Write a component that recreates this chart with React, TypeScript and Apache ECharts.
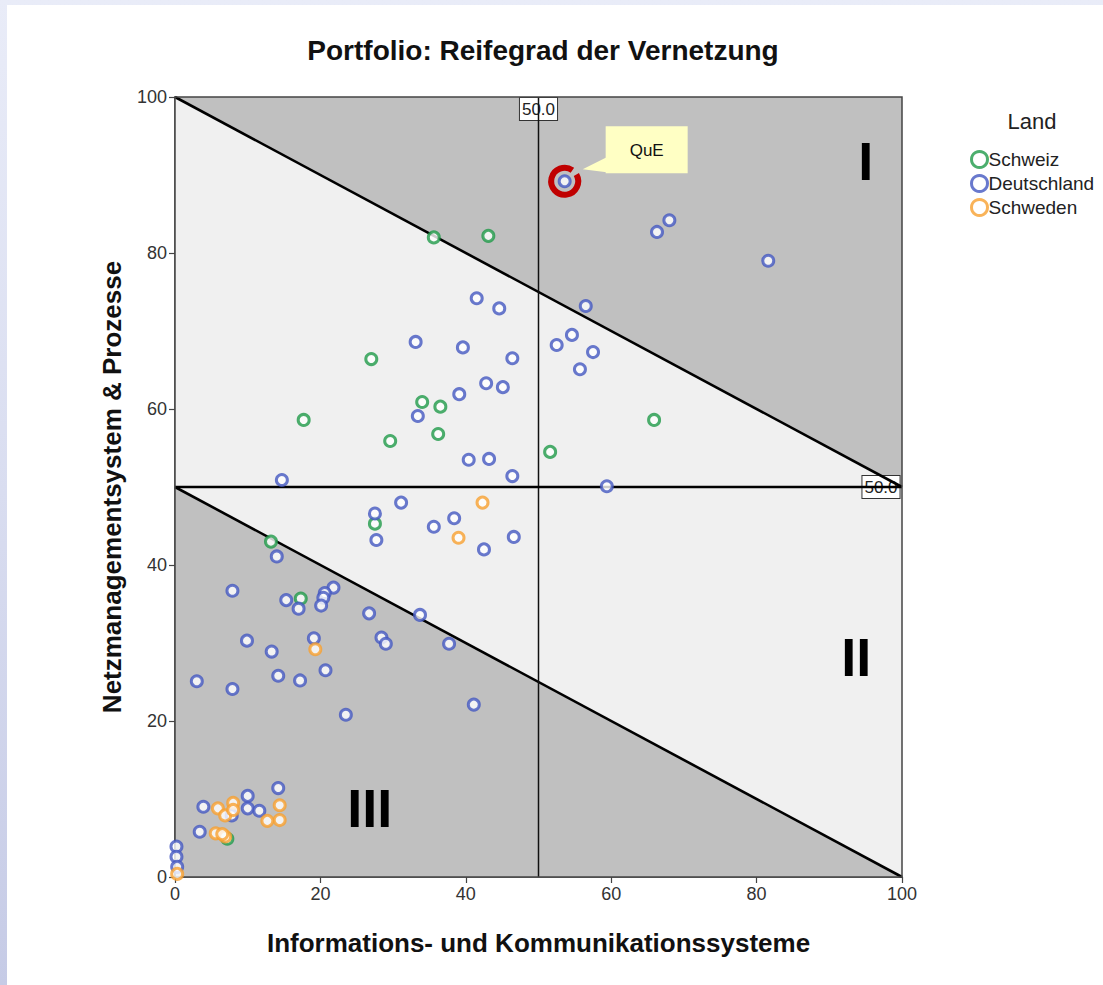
import React, { useEffect, useRef } from "react";
import * as echarts from "echarts";

// ---------- data ----------
const axisTicks = [0, 20, 40, 60, 80, 100];
const countries = ["Schweiz", "Deutschland", "Schweden"];

const schweiz: number[][] = [
  [35.6, 82.0], [43.1, 82.2], [27.0, 66.4], [17.7, 58.6], [34.0, 60.9],
  [36.5, 60.3], [29.6, 55.9], [36.2, 56.8], [51.6, 54.5], [65.9, 58.6],
  [27.5, 45.3], [13.2, 43.0], [17.3, 35.7], [7.2, 4.9],
];

const deutschland: number[][] = [
  [53.6, 89.2], [66.3, 82.7], [68.0, 84.2], [81.6, 79.0], [56.5, 73.2],
  [54.6, 69.5], [52.5, 68.2], [57.5, 67.3], [55.7, 65.1], [59.4, 50.1],
  [41.5, 74.2], [44.6, 72.9], [33.1, 68.6], [39.6, 67.9], [46.4, 66.5],
  [42.8, 63.3], [45.1, 62.8], [39.1, 61.9], [33.4, 59.1], [40.4, 53.5],
  [43.2, 53.6], [46.4, 51.4], [14.7, 50.9],
  [27.5, 46.6], [27.7, 43.2], [31.1, 48.0], [35.6, 44.9], [38.4, 46.0],
  [42.5, 42.0], [46.6, 43.6], [26.7, 33.8], [33.7, 33.6], [28.4, 30.7],
  [29.0, 29.9], [37.7, 29.9], [41.1, 22.1],
  [14.0, 41.1], [7.9, 36.7], [15.3, 35.5], [17.0, 34.4], [21.8, 37.1],
  [20.6, 36.4], [20.4, 35.8], [20.1, 34.8], [9.9, 30.3], [13.3, 28.9],
  [19.1, 30.6], [20.7, 26.5], [3.0, 25.1], [7.9, 24.1], [14.2, 25.8],
  [17.2, 25.2], [23.5, 20.8],
  [14.2, 11.4], [3.9, 9.0], [7.8, 7.9], [10.0, 10.4], [10.0, 8.8],
  [11.6, 8.5], [3.4, 5.8], [0.2, 3.9], [0.2, 2.6], [0.3, 1.3],
];

const schweden: number[][] = [
  [42.3, 48.0], [39.0, 43.5], [19.3, 29.2], [5.9, 8.8], [8.0, 9.5],
  [6.9, 7.9], [8.0, 8.6], [14.4, 9.2], [14.4, 7.3], [12.7, 7.2],
  [5.6, 5.6], [6.9, 5.2], [6.5, 5.5], [0.3, 0.4],
];

// regions: above upper diagonal, band between diagonals, below lower diagonal
const regionTop: number[][] = [[0, 100], [100, 100], [100, 50]];
const regionBand: number[][] = [[0, 100], [100, 50], [100, 0], [0, 50]];
const regionBottom: number[][] = [[0, 50], [100, 0], [0, 0]];

const upperDiagonal: number[][] = [[0, 100], [100, 50]];
const lowerDiagonal: number[][] = [[0, 50], [100, 0]];
const refX = 50;
const refY = 50;
const refLabel = "50.0";

const quePoint: number[] = [53.6, 89.2];
const queLabel = "QuE";

const numeralLabels = ["I", "II", "III"];
const numeralPositions: number[][] = [[95.0, 91.8], [93.7, 28.2], [26.8, 8.8]];

const titleText = "Portfolio: Reifegrad der Vernetzung";
const xName = "Informations- und Kommunikationssysteme";
const yName = "Netzmanagementsystem & Prozesse";
const legendTitle = "Land";

// ---------- styles ----------
const FONT = "'Liberation Sans', Arial, 'DejaVu Sans', sans-serif";
const COLORS = ["#1f9a48", "#4458c0", "#f7a030"];
const DARK = "#c0c0c0";
const LIGHT = "#f0f0f0";

export default function App() {
  const ref = useRef<HTMLDivElement | null>(null);

  useEffect(() => {
    if (!ref.current) return;
    const chart = echarts.init(ref.current, undefined, { renderer: "svg" });

    const scatter = (name: string, data: number[][], color: string) => ({
      name,
      type: "scatter",
      data,
      symbol: "circle",
      symbolSize: 11,
      itemStyle: { color: "#ffffff", borderColor: color, borderWidth: 3 },
      z: 5,
    });

    const maxT = axisTicks[axisTicks.length - 1];
    const minT = axisTicks[0];

    const option: any = {
      animation: false,
      backgroundColor: "transparent",
      title: {
        text: titleText,
        left: 538,
        top: 31,
        textAlign: "center",
        textStyle: { fontFamily: FONT, fontSize: 28, fontWeight: "bold", color: "#111" },
      },
      graphic: [
        {
          type: "text",
          x: 1032,
          y: 121,
          style: {
            text: legendTitle,
            font: `22px ${FONT}`,
            fill: "#222",
            align: "center",
            verticalAlign: "middle",
          },
        },
      ],
      legend: {
        data: countries.map((name, i) => ({
          name,
          icon: "circle",
          itemStyle: { color: "#ffffff", borderColor: COLORS[i], borderWidth: 3 },
        })),
        orient: "vertical",
        left: 965,
        top: 145,
        itemWidth: 16,
        itemHeight: 16,
        itemGap: 5,
        textStyle: { fontFamily: FONT, fontSize: 19, lineHeight: 19, color: "#222", padding: [0, 0, 0, -4] },
      },
      grid: { left: 175, top: 97, width: 727, height: 780, containLabel: false },
      xAxis: {
        type: "value",
        min: minT,
        max: maxT,
        interval: axisTicks[1] - axisTicks[0],
        name: xName,
        nameLocation: "middle",
        nameGap: 53,
        nameTextStyle: { fontFamily: FONT, fontSize: 26, fontWeight: "bold", color: "#111" },
        axisLine: { show: true, lineStyle: { color: "#444", width: 1.5 } },
        axisTick: { show: true, length: 6, lineStyle: { color: "#444", width: 1.2 } },
        axisLabel: { fontFamily: FONT, fontSize: 18, color: "#333", margin: 8 },
        splitLine: { show: false },
      },
      yAxis: {
        type: "value",
        min: minT,
        max: maxT,
        interval: axisTicks[1] - axisTicks[0],
        name: yName,
        nameLocation: "middle",
        nameGap: 50,
        nameTextStyle: { fontFamily: FONT, fontSize: 26, fontWeight: "bold", color: "#111" },
        axisLine: { show: true, lineStyle: { color: "#444", width: 1.5 } },
        axisTick: { show: true, length: 6, lineStyle: { color: "#444", width: 1.2 } },
        axisLabel: { fontFamily: FONT, fontSize: 18, color: "#333", margin: 8 },
        splitLine: { show: false },
      },
      series: [
        {
          type: "custom",
          name: "regions",
          data: [[0, 0]],
          silent: true,
          z: 1,
          clip: false,
          renderItem: (_p: any, api: any) => {
            const poly = (pts: number[][], fill: string) => ({
              type: "polygon",
              shape: { points: pts.map((p) => api.coord(p)) },
              style: { fill, stroke: null },
            });
            const topPt = api.coord([refX, maxT]);
            const rightPt = api.coord([maxT, refY]);
            const lbl = (x: number, y: number) => ({
              type: "text",
              x,
              y,
              style: {
                text: refLabel,
                font: `17px ${FONT}`,
                fill: "#222",
                align: "center",
                verticalAlign: "middle",
                backgroundColor: "#fff",
                borderColor: "#333",
                borderWidth: 1,
                padding: [3, 2, 2, 2],
              },
            });
            return {
              type: "group",
              children: [
                poly(regionTop, DARK),
                poly(regionBand, LIGHT),
                poly(regionBottom, DARK),
                lbl(topPt[0], topPt[1] + 12),
                lbl(rightPt[0] - 21, rightPt[1]),
              ],
            };
          },
        },
        {
          type: "line",
          data: upperDiagonal,
          symbol: "none",
          silent: true,
          lineStyle: { color: "#000", width: 2.6 },
          z: 3,
        },
        {
          type: "line",
          data: lowerDiagonal,
          symbol: "none",
          silent: true,
          lineStyle: { color: "#000", width: 2.6 },
          z: 3,
        },
        {
          type: "line",
          data: [[refX, minT], [refX, maxT]],
          symbol: "none",
          silent: true,
          lineStyle: { color: "#111", width: 1.5 },
          z: 3,
        },
        {
          type: "line",
          data: [[minT, refY], [maxT, refY]],
          symbol: "none",
          silent: true,
          lineStyle: { color: "#000", width: 2.6 },
          z: 3,
        },
        {
          type: "custom",
          name: "frame",
          data: [[0, 0]],
          silent: true,
          z: 4,
          clip: false,
          renderItem: (_p: any, api: any) => {
            const a = api.coord([minT, maxT]);
            const b = api.coord([maxT, minT]);
            return {
              type: "rect",
              shape: { x: a[0], y: a[1], width: b[0] - a[0], height: b[1] - a[1] },
              style: { fill: null, stroke: "#444", lineWidth: 1.5 },
            };
          },
        },
        scatter(countries[0], schweiz, COLORS[0]),
        scatter(countries[1], deutschland, COLORS[1]),
        scatter(countries[2], schweden, COLORS[2]),
        {
          type: "custom",
          name: "numerals",
          data: numeralPositions,
          silent: true,
          z: 6,
          clip: false,
          renderItem: (p: any, api: any) => {
            const c = api.coord([api.value(0), api.value(1)]);
            return {
              type: "text",
              x: c[0],
              y: c[1],
              style: {
                text: numeralLabels[p.dataIndex],
                font: `bold 54px ${FONT}`,
                fill: "#000",
                align: "center",
                verticalAlign: "middle",
              },
            };
          },
        },
        {
          type: "custom",
          name: "callout",
          data: [quePoint],
          silent: true,
          z: 7,
          clip: false,
          renderItem: (_p: any, api: any) => {
            const c = api.coord([api.value(0), api.value(1)]);
            const deg = Math.PI / 180;
            return {
              type: "group",
              children: [
                {
                  type: "arc",
                  shape: { cx: c[0], cy: c[1], r: 13.5, startAngle: -30 * deg, endAngle: 305 * deg, clockwise: true },
                  style: { stroke: "#c00000", lineWidth: 6, fill: null },
                },
                {
                  type: "polygon",
                  shape: { points: [[c[0] + 18, c[1] - 12], [c[0] + 42, c[1] - 24], [c[0] + 42, c[1] - 9]] },
                  style: { fill: "#ffffc4" },
                },
                {
                  type: "rect",
                  shape: { x: c[0] + 41, y: c[1] - 55, width: 82, height: 47 },
                  style: { fill: "#ffffc4" },
                },
                {
                  type: "text",
                  x: c[0] + 82,
                  y: c[1] - 31,
                  style: {
                    text: queLabel,
                    font: `17px ${FONT}`,
                    fill: "#111",
                    align: "center",
                    verticalAlign: "middle",
                  },
                },
              ],
            };
          },
        },
      ],
    };

    chart.setOption(option);
    return () => chart.dispose();
  }, []);

  return (
    <div
      style={{
        position: "fixed",
        left: 0,
        top: 0,
        width: 1103,
        height: 985,
        background: "linear-gradient(180deg, #e9ecf8 0%, #d9ddf0 50%, #c6cbe6 100%)",
        overflow: "hidden",
      }}
    >
      <div style={{ position: "absolute", left: 7, top: 5, right: 0, bottom: 0, background: "#fff" }} />
      <div ref={ref} style={{ position: "absolute", left: 0, top: 0, width: 1103, height: 985 }} />
    </div>
  );
}
